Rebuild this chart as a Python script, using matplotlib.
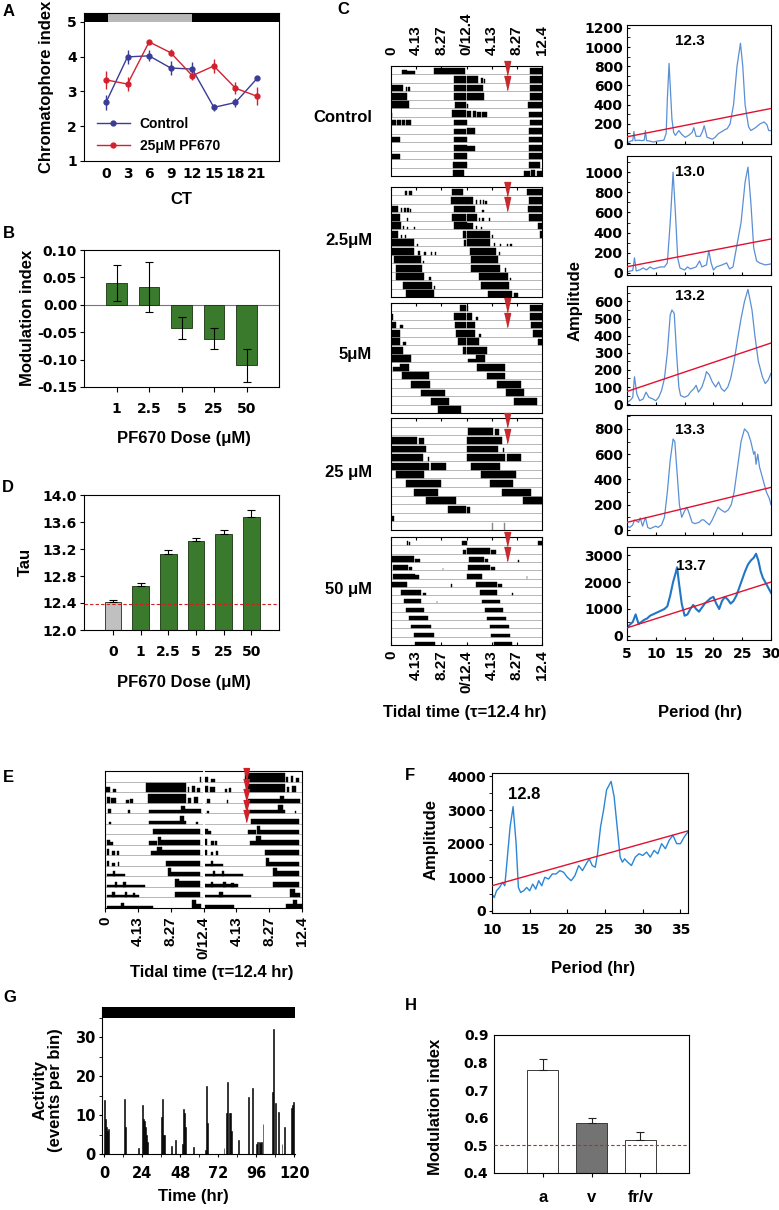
import matplotlib
matplotlib.use("Agg")
import matplotlib.pyplot as plt
import numpy as np
from matplotlib.lines import Line2D
from matplotlib.ticker import MultipleLocator

plt.rcParams['font.family'] = ['Liberation Sans', 'DejaVu Sans']
plt.rcParams['font.weight'] = 'bold'
plt.rcParams['axes.labelweight'] = 'bold'
plt.rcParams['axes.linewidth'] = 0.8

# ---------------- data ----------------
# Panel A
ct_hours = [0, 3, 6, 9, 12, 15, 18, 21]
ctrl_index = [2.68, 3.99, 4.02, 3.67, 3.64, 2.54, 2.68, 3.37]
ctrl_index_err = [0.21, 0.20, 0.16, 0.21, 0.19, 0.10, 0.14, 0.03]
pf_index = [3.33, 3.21, 4.42, 4.11, 3.45, 3.73, 3.09, 2.86]
pf_index_err = [0.25, 0.20, 0.03, 0.10, 0.12, 0.20, 0.18, 0.26]
subjective_day = (0.3, 12.0)

# Panel B
doses_b = ['1', '2.5', '5', '25', '50']
mod_index = [0.040, 0.033, -0.042, -0.062, -0.110]
mod_index_err = [0.033, 0.046, 0.020, 0.019, 0.030]

# Panel D
doses_d = ['0', '1', '2.5', '5', '25', '50']
tau_vals = [12.41, 12.65, 13.12, 13.32, 13.42, 13.67]
tau_err = [0.03, 0.05, 0.06, 0.05, 0.06, 0.11]
tau_ref = 12.38

# Panel C actograms: per tidal cycle bouts (start hr, end hr, relative height[, colour])
tidal_tau = 12.4
tidal_ticks = [0, 4.13, 8.27, 12.4, 16.53, 20.67, 24.8]
tidal_labels = ['0', '4.13', '8.27', '0/12.4', '4.13', '8.27', '12.4']
group_names = ['Control', '2.5μM', '5μM', '25 μM', '50 μM']
acto_control = [
    [(1.8, 2.6, 0.6), (2.7, 4.0, 0.4), (7.0, 12.2, 0.85)],
    [(10.4, 12.4, 0.85)],
    [(0, 1.9, 0.85), (2.4, 2.7, 0.6), (2.8, 3.1, 0.5), (10.4, 12.4, 0.85)],
    [(0, 2.7, 0.85), (10.4, 12.4, 0.85)],
    [(0, 2.9, 0.85), (10.5, 12.4, 0.8)],
    [(0, 0.2, 0.5), (10.1, 12.4, 0.8)],
    [(0, 0.8, 0.7), (1.0, 1.6, 0.7), (1.8, 2.3, 0.6), (2.5, 3.3, 0.6), (10.3, 12.4, 0.6)],
    [(10.4, 12.4, 0.6)],
    [(0, 1.4, 0.7), (10.3, 12.4, 0.7)],
    [(10.3, 12.4, 0.7)],
    [(0, 1.4, 0.6), (10.3, 12.4, 0.7)],
    [(10.2, 12.4, 0.7)],
    [(10.2, 12.0, 0.7)],
    [(9.5, 10.5, 0.6), (10.6, 11.3, 0.7), (11.5, 12.4, 0.6)],
]
acto_2p5 = [
    [(2.3, 2.7, 0.5), (2.9, 3.4, 0.5), (10.0, 11.9, 0.85)],
    [(9.9, 12.4, 0.85)],
    [(0, 1.1, 0.85), (1.6, 1.8, 0.5), (2.2, 2.4, 0.5), (2.7, 2.9, 0.5), (3.1, 3.3, 0.4), (10.3, 12.4, 0.85)],
    [(0, 1.4, 0.85), (2.6, 2.8, 0.3), (10.1, 12.4, 0.85)],
    [(0, 1.7, 0.85), (2.0, 2.2, 0.4), (2.6, 2.8, 0.3), (3.7, 3.9, 0.3), (10.3, 12.4, 0.85)],
    [(0, 1.1, 0.8), (1.6, 1.8, 0.4), (2.3, 2.5, 0.3), (11.8, 12.4, 0.8)],
    [(0, 3.8, 0.85), (4.2, 4.4, 0.3), (12.0, 12.4, 0.8)],
    [(0, 3.8, 0.85), (4.5, 4.7, 0.4), (5.5, 5.7, 0.3), (6.6, 6.8, 0.3), (7.2, 7.4, 0.3)],
    [(0.5, 4.9, 0.85), (5.3, 5.5, 0.3)],
    [(0.8, 5.1, 0.85)],
    [(0.8, 5.5, 0.85), (6.3, 6.5, 0.4)],
    [(2.0, 6.8, 0.85), (7.1, 7.3, 0.3)],
    [(2.4, 7.0, 0.85)],
    [(3.6, 7.4, 0.8), (7.8, 8.4, 0.5)],
]
acto_5 = [
    [(11.4, 12.4, 0.85)],
    [(0, 0.3, 0.7), (10.4, 12.4, 0.85)],
    [(0, 0.9, 0.85), (1.5, 1.9, 0.4), (10.5, 12.4, 0.85)],
    [(0, 1.4, 0.85), (10.6, 12.4, 0.85)],
    [(0, 1.4, 0.85), (2.0, 2.4, 0.4), (11.0, 12.4, 0.85)],
    [(0, 2.0, 0.85), (11.8, 12.4, 0.8)],
    [(0, 3.3, 0.85)],
    [(0.3, 1.5, 0.4), (1.5, 3.0, 0.85)],
    [(1.8, 6.3, 0.85)],
    [(3.3, 6.4, 0.8)],
    [(5.0, 8.9, 0.8)],
    [(6.5, 9.5, 0.85)],
    [(7.8, 11.5, 0.85)],
    [],
]
acto_25 = [
    [],
    [],
    [(0.2, 4.3, 0.85), (4.6, 5.4, 0.75)],
    [(0, 5.8, 0.85)],
    [(0, 5.2, 0.85), (6.0, 6.2, 0.5)],
    [(0, 6.3, 0.85), (6.6, 9.0, 0.85)],
    [(0.8, 5.5, 0.85)],
    [(2.4, 8.2, 0.85)],
    [(3.8, 7.7, 0.85)],
    [(5.8, 10.6, 0.85)],
    [(9.3, 12.4, 0.85)],
    [(0, 0.5, 0.7)],
    [],
    [(4.2, 4.35, 0.9, '#888888'), (6.1, 6.25, 0.9, '#888888')],
]
acto_50 = [
    [(2.6, 2.8, 0.6), (3.0, 3.2, 0.4), (11.6, 12.4, 0.6)],
    [(11.8, 12.4, 0.5)],
    [(0, 3.8, 0.7), (4.0, 4.8, 0.4)],
    [(0.4, 2.8, 0.6), (3.0, 3.5, 0.4), (8.5, 8.6, 0.3)],
    [(0.3, 3.9, 0.6), (4.0, 4.6, 0.4)],
    [(0, 2.6, 0.6), (9.9, 10.0, 0.3)],
    [(1.6, 5.0, 0.6), (5.2, 5.8, 0.3)],
    [(2.2, 5.0, 0.6), (7.5, 7.6, 0.3)],
    [(2.5, 5.5, 0.5)],
    [(3.0, 6.0, 0.5)],
    [(3.3, 6.5, 0.45)],
    [(3.8, 7.0, 0.45)],
    [(4.0, 7.2, 0.4)],
    [(4.5, 7.5, 0.4)],
]
acto_groups = [acto_control, acto_2p5, acto_5, acto_25, acto_50]
drug_onset_hr = 19.1

# Panel C periodograms
per1 = [5, 5.6, 6.0, 6.2, 6.4, 7, 7.6, 8.0, 8.2, 8.4, 9, 9.6, 10.2, 10.8, 11.4, 11.8, 12.0, 12.3, 12.5, 12.8,
        13.1, 13.4, 14.0, 14.5, 15.1, 15.7, 16.3, 16.6, 17.0, 17.7, 18.1, 18.4, 18.9, 19.4, 19.8, 20.3, 20.9,
        21.5, 22.0, 22.4, 22.9, 23.5, 24.1, 24.7, 25.1, 25.5, 26.1, 26.5, 27.3, 28.1, 28.8, 29.3, 29.6, 30]
amp1 = [0, 20, 25, 120, 25, 30, 25, 30, 130, 25, 20, 10, 20, 25, 30, 100, 450, 830, 600, 250,
        110, 80, 130, 90, 60, 80, 110, 160, 70, 70, 120, 180, 60, 50, 40, 60, 100,
        120, 140, 150, 200, 400, 800, 1040, 800, 400, 170, 130, 160, 200, 220, 190, 130, 130]
per2 = [5, 5.6, 6.0, 6.3, 6.6, 7.2, 7.8, 8.4, 9.0, 9.6, 10.2, 10.8, 11.5, 12.0, 12.5, 13.0, 13.4, 13.8, 14.2,
        15.0, 15.5, 16.0, 17.0, 17.6, 18.0, 18.8, 19.2, 19.6, 20.0, 20.5, 21.5, 22.3, 22.8, 23.4, 24.0, 24.8,
        25.5, 26.0, 26.5, 27.0, 27.5, 28.0, 29.0, 30.0]
amp2 = [10, 20, 25, 150, 20, 30, 50, 30, 60, 40, 50, 60, 60, 100, 500, 1000, 600, 150, 50,
        30, 60, 40, 60, 120, 60, 80, 220, 100, 30, 60, 80, 100, 40, 60, 250, 500,
        900, 1050, 700, 250, 120, 100, 80, 90]
per3 = [5, 5.5, 6.0, 6.3, 6.7, 7.2, 7.8, 8.3, 8.8, 9.5, 10.0, 10.5, 11.0, 11.5, 12.0, 12.5, 12.8, 13.2, 13.6,
        14.0, 14.3, 15.0, 15.6, 16.0, 16.6, 17.0, 17.4, 18.0, 18.5, 18.8, 19.3, 19.8, 20.4, 20.9, 21.4, 21.9,
        22.5, 23.0, 23.6, 24.2, 24.8, 25.4, 26.0, 26.7, 27.2, 27.8, 28.5, 29.0, 29.5, 30.0]
amp3 = [10, 20, 40, 160, 60, 20, 30, 70, 40, 30, 20, 40, 80, 150, 300, 520, 550, 530, 300,
        100, 50, 40, 50, 70, 90, 110, 70, 100, 150, 190, 170, 130, 100, 130, 90, 75,
        100, 150, 250, 380, 500, 600, 670, 550, 400, 250, 160, 120, 140, 180]
per4 = [5, 5.5, 6.0, 6.3, 7.0, 7.3, 7.7, 8.2, 8.6, 9.0, 9.5, 10.0, 10.4, 11.0, 11.5, 12.0, 12.5, 13.0, 13.3,
        13.7, 14.1, 14.5, 15.0, 15.4, 15.8, 16.3, 16.8, 17.5, 18.0, 18.3, 18.8, 19.3, 19.8, 20.3, 20.8, 21.3,
        22.0, 22.6, 23.1, 23.6, 24.2, 24.8, 25.4, 26.0, 26.5, 27.0, 27.2, 27.4, 27.7, 28.0, 28.6, 29.2, 29.7, 30.0]
amp4 = [30, 20, 40, 80, 60, 95, 30, 100, 20, 10, 20, 30, 20, 40, 100, 300, 550, 720, 700,
        450, 200, 100, 150, 180, 130, 60, 50, 60, 80, 80, 60, 40, 80, 130, 180, 160,
        140, 160, 200, 300, 500, 700, 800, 770, 700, 600, 620, 520, 600, 500, 400, 300, 250, 200]
per5 = [5, 5.5, 6.0, 6.5, 7.0, 7.5, 8.0, 8.5, 9.0, 9.5, 10.0, 10.5, 11.0, 11.5, 12.0, 12.5, 13.0, 13.4, 13.7,
        14.0, 14.5, 15.0, 15.5, 16.0, 16.5, 17.0, 17.5, 18.0, 18.5, 19.0, 19.5, 20.0, 20.5, 21.0, 21.5, 22.0,
        22.5, 23.0, 23.5, 24.0, 24.5, 25.0, 25.5, 26.0, 26.5, 27.0, 27.4, 27.8, 28.2, 28.6, 29.0, 29.5, 30.0]
amp5 = [300, 420, 520, 800, 450, 520, 600, 650, 750, 800, 850, 900, 950, 1000, 1100, 1500, 2000, 2300, 2550,
        2000, 1200, 750, 800, 1000, 1150, 1000, 900, 1050, 1200, 1300, 1400, 1450, 1200, 1000, 1300, 1450,
        1350, 1200, 1300, 1500, 1800, 2100, 2400, 2650, 2800, 2900, 3050, 2800, 2400, 2150, 2000, 1800, 1600]
pg_periods = [per1, per2, per3, per4, per5]
pg_amps = [amp1, amp2, amp3, amp4, amp5]
pg_thresh = [(65, 360), (62, 337), (74, 357), (60, 337), (300, 2000)]
pg_tau_labels = ['12.3', '13.0', '13.2', '13.3', '13.7']
pg_label_amp = [1060, 1000, 630, 795, 2580]
pg_yticks = [[0, 200, 400, 600, 800, 1000, 1200], [0, 200, 400, 600, 800, 1000],
             [0, 100, 200, 300, 400, 500, 600], [0, 200, 400, 600, 800], [0, 1000, 2000, 3000]]
pg_ylims = [(-10, 1230), (-20, 1160), (-5, 690), (-40, 910), (-150, 3300)]

# Panel E actogram (per tidal cycle)
acto_E = [
    [(11.9, 12.1, 0.5)],
    [(0.1, 0.6, 0.5), (1.0, 1.4, 0.3), (5.2, 10.2, 0.9), (10.4, 10.6, 0.5), (11.0, 11.3, 0.6), (11.6, 12.0, 0.4)],
    [(0.2, 0.6, 0.6), (0.8, 1.4, 0.5), (2.7, 3.0, 0.3), (3.2, 3.5, 0.4), (5.4, 10.2, 0.85), (10.5, 10.8, 0.5), (11.2, 11.7, 0.6)],
    [(0.4, 0.8, 0.4), (2.9, 3.1, 0.3), (5.6, 9.6, 0.35), (9.6, 10.1, 0.7), (10.1, 12.1, 0.4)],
    [(0.5, 0.7, 0.2), (5.6, 9.4, 0.3), (9.4, 10.0, 0.8), (10.0, 10.2, 0.3), (11.5, 11.7, 0.2)],
    [(6.0, 12.0, 0.5)],
    [(0.2, 0.6, 0.5), (0.6, 1.0, 0.3), (5.6, 6.6, 0.4), (6.7, 7.1, 0.8), (7.1, 12.0, 0.45)],
    [(0.2, 0.5, 0.6), (0.9, 1.3, 0.4), (1.5, 1.7, 0.4), (5.8, 6.6, 0.4), (6.6, 7.2, 0.85), (7.2, 12.0, 0.5)],
    [(0.2, 0.5, 0.5), (0.9, 1.2, 0.3), (1.6, 1.8, 0.4), (7.7, 12.0, 0.5)],
    [(0.2, 2.5, 0.2), (1.0, 1.2, 0.5), (7.9, 8.3, 0.8), (8.3, 12.0, 0.4)],
    [(0.2, 5.0, 0.2), (1.2, 1.5, 0.5), (2.3, 2.6, 0.5), (8.8, 9.3, 0.8), (9.3, 12.0, 0.55)],
    [(0.2, 4.3, 0.25), (0.9, 1.2, 0.5), (2.5, 2.8, 0.5), (3.5, 3.8, 0.4), (8.8, 12.0, 0.5)],
    [(0.2, 6.0, 0.2), (2.0, 2.4, 0.5), (10.9, 11.5, 0.8), (11.5, 12.1, 0.4)],
    [(0, 3.8, 0.25), (10.4, 12.4, 0.4), (11.3, 11.8, 0.8)],
]
drug_onset_E = 17.8

# Panel F periodogram
perF = [10, 10.3, 10.6, 11, 11.4, 11.7, 12, 12.4, 12.8, 13.2, 13.5, 13.8, 14.2, 14.6, 15, 15.4, 15.8, 16.2,
        16.6, 17, 17.5, 18, 18.5, 19, 19.5, 20, 20.5, 21, 21.5, 22, 22.5, 22.9, 23.3, 23.7, 24, 24.4, 24.8,
        25.2, 25.8, 26.2, 26.6, 27, 27.3, 27.6, 28, 28.5, 29, 29.5, 30, 30.5, 31, 31.5, 32, 32.5, 33, 33.5,
        34, 34.5, 35, 35.5, 36]
ampF = [500, 400, 600, 700, 850, 750, 1500, 2500, 3100, 2000, 700, 550, 600, 700, 600, 800, 650, 900,
        750, 1000, 950, 1100, 1100, 1200, 1150, 1000, 900, 1050, 1350, 1200, 1400, 1550, 1350, 1300, 1700, 2500, 3000,
        3600, 3850, 3400, 2500, 1600, 1450, 1550, 1450, 1350, 1600, 1700, 1650, 1750, 1600, 1800, 1700, 2000, 1850, 2100,
        2250, 2000, 2000, 2200, 2350]
threshF = (750, 2380)

# Panel G activity trace
g_time = [0.0, 0.6, 1.2, 1.8, 2.4, 12.5, 13.2, 21.6, 23.7, 24.4, 25.1, 25.8, 26.5, 27.2, 36.0, 36.7, 37.4, 38.1,
          42.5, 44.6, 49.0, 49.7, 50.4, 51.1, 56.0, 63.5, 64.2, 64.9, 75.4, 77.0, 77.8, 78.6, 79.4, 80.2, 84.4,
          90.7, 93.4, 96.0, 96.8, 97.6, 98.4, 99.2, 100.0, 106.0, 106.8, 107.6, 110.0, 112.0, 113.7, 118.0, 118.8, 119.5]
g_act = [13.8, 9, 7, 6, 6.5, 14.2, 7, 1.5, 12.5, 9, 8.5, 7, 5, 3, 9.5, 14.2, 5, 5,
         2, 3.5, 2.5, 11.5, 10.5, 7, 1.8, 1, 17.5, 8, 1.5, 10.5, 18.5, 10.5, 10.5, 6, 3.5,
         14.5, 16.8, 2.5, 3.2, 3, 2.8, 3, 7.7, 16, 32, 13, 10.8, 2.5, 7, 11.8, 12.5, 13.3]

# Panel H
h_groups = ['a', 'v', 'fr/v']
h_vals = [0.773, 0.581, 0.520]
h_err = [0.040, 0.019, 0.029]
h_colors = ['white', '#737373', 'white']

# ---------------- drawing ----------------
BLUE_A = '#3b3b98'
RED_A = '#d3202f'
GREEN = '#3a7a2c'
TRI = '#c62a2e'
PBLUE = '#5a8fd4'
PRED = '#e01030'
NUMFONT = 'DejaVu Sans'

W, H = 779, 1210
fig = plt.figure(figsize=(W / 100, H / 100), dpi=100)


def axpx(x0, y0, x1, y1):
    return fig.add_axes([x0 / W, 1 - y1 / H, (x1 - x0) / W, (y1 - y0) / H])


def ftext(x, y, s, **kw):
    kw.setdefault('ha', 'center')
    kw.setdefault('va', 'center')
    kw.setdefault('fontsize', 12)
    kw.setdefault('fontweight', 'bold')
    fig.text(x / W, 1 - y / H, s, **kw)


def numticks(ax, size=10):
    ax.tick_params(labelsize=size, labelfontfamily=NUMFONT)


# ---- Panel A ----
axA = axpx(84, 13, 279, 161)
axA.errorbar(ct_hours, ctrl_index, yerr=ctrl_index_err, color=BLUE_A, marker='o', ms=3.5, lw=1.0,
             elinewidth=1.0, capsize=0, zorder=3)
axA.errorbar(ct_hours, pf_index, yerr=pf_index_err, color=RED_A, marker='o', ms=3.5, lw=1.0,
             elinewidth=1.0, capsize=0, zorder=3)
axA.set_xlim(-3.05, 24.05)
axA.set_ylim(1, 5.25)
axA.axhspan(5.0, 5.25, color='black', lw=0)
axA.fill_between(list(subjective_day), 5.0, 5.25, color='#b8b8b8', lw=0)
axA.set_xticks(ct_hours)
axA.set_yticks([1, 2, 3, 4, 5])
numticks(axA)
axA.tick_params(axis='x', length=0, pad=4)
axA.tick_params(axis='y', length=3, pad=2)
hA = [Line2D([], [], color=BLUE_A, marker='o', ms=3.5, lw=1.0),
      Line2D([], [], color=RED_A, marker='o', ms=3.5, lw=1.0)]
axA.legend(hA, ['Control', '25μM PF670'], loc='lower left', bbox_to_anchor=(0.0, -0.03), frameon=False,
           fontsize=10, handlelength=2.4, handletextpad=0.7, labelspacing=0.55)
ftext(47, 87, 'Chromatophore index', rotation=90)
ftext(181, 199, 'CT')

# ---- Panel B ----
axB = axpx(84, 250, 279, 387)
xB = np.arange(len(doses_b))
axB.bar(xB, mod_index, width=0.62, color=GREEN, edgecolor='#17320e', lw=0.6, zorder=2)
axB.errorbar(xB, mod_index, yerr=mod_index_err, fmt='none', ecolor='black', elinewidth=0.8, capsize=3,
             capthick=0.8, zorder=3)
axB.axhline(0, color='#777777', lw=0.8, zorder=1)
axB.set_xlim(-1, len(doses_b))
axB.set_ylim(-0.15, 0.10)
axB.set_yticks([-0.15, -0.10, -0.05, 0.0, 0.05, 0.10])
axB.set_yticklabels(['%.2f' % v for v in [-0.15, -0.10, -0.05, 0.0, 0.05, 0.10]])
axB.set_xticks(xB)
axB.set_xticklabels(doses_b)
numticks(axB)
axB.tick_params(axis='x', length=3.5, pad=7)
axB.tick_params(axis='y', length=3, pad=2)
ftext(28, 318, 'Modulation index', rotation=90)
ftext(184, 439, 'PF670 Dose (μM)')

# ---- Panel D ----
axD = axpx(84, 495, 279, 630)
xD = np.arange(len(doses_d))
colsD = ['#c0c0c0'] + [GREEN] * (len(doses_d) - 1)
axD.bar(xD, tau_vals, width=0.6, color=colsD, edgecolor='#17320e', lw=0.6, zorder=2)
axD.errorbar(xD, tau_vals, yerr=[np.zeros(len(tau_err)), tau_err], fmt='none', ecolor='black',
             elinewidth=0.8, capsize=3, capthick=0.8, zorder=3)
axD.axhline(tau_ref, color='#d02020', lw=0.8, ls=(0, (3, 2)), zorder=4)
axD.set_xlim(-1.05, len(doses_d))
axD.set_ylim(12.0, 14.0)
axD.set_yticks([12.0, 12.4, 12.8, 13.2, 13.6, 14.0])
axD.set_yticklabels(['%.1f' % v for v in [12.0, 12.4, 12.8, 13.2, 13.6, 14.0]])
axD.set_xticks(xD)
axD.set_xticklabels(doses_d)
numticks(axD)
axD.tick_params(axis='x', length=3.5, pad=7)
axD.tick_params(axis='y', length=3, pad=2)
ftext(25, 562, 'Tau', rotation=90)
ftext(184, 682, 'PF670 Dose (μM)')


# ---- actogram helper ----
def draw_acto(ax, cycles, nrows, tau):
    for i in range(nrows):
        base = nrows - 1 - i
        ax.axhline(base, color='#9a9a9a', lw=0.5, zorder=1)
        for half, c in ((0, i), (1, i + 1)):
            if c >= len(cycles):
                continue
            for b in cycles[c]:
                s, e, hgt = b[0], b[1], b[2]
                col = b[3] if len(b) > 3 else 'black'
                ax.bar(s + half * tau, hgt * 0.95, width=e - s, bottom=base, align='edge',
                       color=col, edgecolor=col, lw=0.3, zorder=2)
    ax.set_xlim(0, 2 * tau)
    ax.set_ylim(0, nrows)
    ax.set_yticks([])
    ax.set_xticks(tidal_ticks)


# ---- Panel C actograms ----
acto_boxes = [(66, 176), (187, 297), (303, 413), (418, 530), (537, 645)]
label_y = [118, 240, 355, 472, 590]
for gi, (cyc, (y0, y1)) in enumerate(zip(acto_groups, acto_boxes)):
    ax = axpx(391, y0, 542, y1)
    nrows = 13
    draw_acto(ax, cyc, nrows, tidal_tau)
    tri = [(-0.45, 1), (0.45, 1), (0, -1)]
    ax.plot([drug_onset_hr, drug_onset_hr], [nrows - 0.2, nrows - 2.05], ls='none', marker=tri, ms=10,
            color=TRI, clip_on=False, zorder=5)
    ax.tick_params(axis='x', which='both', top=True, bottom=(gi == 4), direction='in', length=2,
                   labelbottom=False, labeltop=False)
    if gi == 0:
        ax.tick_params(axis='x', labeltop=True, labelrotation=90, labelsize=11, pad=8)
        ax.set_xticklabels(tidal_labels)
    if gi == 4:
        ax.tick_params(axis='x', labelbottom=True, labelrotation=90, labelsize=11, pad=4)
        ax.set_xticklabels(tidal_labels)
    ftext(372, label_y[gi], group_names[gi], ha='right')
ftext(465, 713, 'Tidal time (τ=12.4 hr)')

# ---- Panel C periodograms ----
pg_boxes = [(25, 144), (156, 275), (286, 405), (415, 535), (547, 640)]
for pi, (y0, y1) in enumerate(pg_boxes):
    ax = axpx(627, y0, 771, y1)
    lw = 1.5 if pi == 4 else 0.9
    col = '#2277c4' if pi == 4 else PBLUE
    ax.plot(pg_periods[pi], pg_amps[pi], color=col, lw=lw, zorder=2)
    ax.plot([5, 30], list(pg_thresh[pi]), color=PRED, lw=1.0, zorder=3)
    ax.set_xlim(5, 30)
    ax.set_ylim(*pg_ylims[pi])
    ax.set_yticks(pg_yticks[pi])
    ax.set_xticks([5, 10, 15, 20, 25, 30])
    ax.yaxis.set_minor_locator(MultipleLocator(pg_yticks[pi][1] / 2))
    numticks(ax)
    ax.tick_params(axis='both', which='both', direction='in', length=2.5, pad=3)
    ax.tick_params(axis='x', labelbottom=(pi == 4), pad=5)
    ax.text(16.0, pg_label_amp[pi], pg_tau_labels[pi], ha='center', va='center', fontsize=11,
            fontweight='bold')
ftext(575, 300, 'Amplitude', rotation=90)
ftext(700, 713, 'Period (hr)')

# ---- Panel E ----
axE = axpx(105, 771, 302, 908)
draw_acto(axE, acto_E, 13, tidal_tau)
axE.axvline(tidal_tau, color='white', lw=1.3, zorder=3)
tri = [(-0.5, 1), (0.5, 1), (0, -1)]
axE.plot([drug_onset_E] * 5, [13 - 0.3 - k for k in range(5)], ls='none', marker=tri, ms=8.5,
         color='#d0202a', clip_on=False, zorder=5)
axE.set_xticklabels(tidal_labels)
axE.tick_params(axis='x', direction='out', length=3, pad=3, labelrotation=90, labelsize=11)
ftext(212, 973, 'Tidal time (τ=12.4 hr)')

# ---- Panel F ----
axF = axpx(492, 773, 688, 913)
axF.plot(perF, ampF, color='#2b86d6', lw=1.0, zorder=2)
axF.plot([10, 36], list(threshF), color=PRED, lw=1.0, zorder=3)
axF.set_xlim(10, 36)
axF.set_ylim(-60, 4100)
axF.set_xticks([10, 15, 20, 25, 30, 35])
axF.set_yticks([0, 1000, 2000, 3000, 4000])
axF.yaxis.set_minor_locator(MultipleLocator(500))
numticks(axF)
axF.tick_params(axis='x', direction='in', length=3, pad=7)
axF.tick_params(axis='y', which='both', direction='out', length=2.5, pad=2)
axF.text(14.3, 3450, '12.8', ha='center', va='center', fontsize=12, fontweight='bold')
ftext(431, 840, 'Amplitude', rotation=90)
ftext(593, 968, 'Period (hr)')

# ---- Panel G ----
axG = axpx(102, 1007, 295, 1154)
axG.bar(g_time, g_act, width=0.6, color='black', edgecolor='black', lw=0.4, align='edge')
axG.axhspan(35, 37.7, color='black', lw=0)
axG.set_xlim(-1.3, 120.5)
axG.set_ylim(0, 37.7)
axG.spines['top'].set_visible(False)
axG.spines['right'].set_visible(False)
axG.set_xticks([0, 24, 48, 72, 96, 120])
axG.set_yticks([0, 10, 20, 30])
axG.xaxis.set_minor_locator(MultipleLocator(12))
axG.yaxis.set_minor_locator(MultipleLocator(5))
numticks(axG, 10.5)
axG.tick_params(axis='both', which='both', direction='out', length=2.5, pad=2)
axG.tick_params(axis='x', pad=6)
ftext(48, 1090, 'Activity\n(events per bin)', rotation=90, linespacing=1.0)
ftext(193, 1197, 'Time (hr)')

# ---- Panel H ----
axH = axpx(494, 1035, 689, 1173)
xH = np.arange(len(h_groups))
axH.bar(xH, h_vals, width=0.63, color=h_colors, edgecolor='#3a3a3a', lw=0.7, zorder=2)
axH.errorbar(xH, h_vals, yerr=[np.zeros(len(h_err)), h_err], fmt='none', ecolor='#222222', elinewidth=0.8,
             capsize=3, capthick=0.8, zorder=3)
axH.axhline(0.5, color='#d02020', lw=0.8, ls=(0, (3, 2)), zorder=4)
axH.set_xlim(-1, len(h_groups))
axH.set_ylim(0.4, 0.9)
axH.set_yticks([0.4, 0.5, 0.6, 0.7, 0.8, 0.9])
axH.set_xticks(xH)
axH.set_xticklabels(h_groups)
numticks(axH)
axH.tick_params(axis='x', length=3, pad=9, labelsize=12, labelfontfamily='Liberation Sans')
axH.tick_params(axis='y', length=0, pad=4)
ftext(436, 1107, 'Modulation index', rotation=90)

# ---- panel letters ----
for lab, (x, y) in zip('ABCDEFGH', [(3, 11), (3, 234), (337, 10), (2, 487), (3, 778), (405, 776), (3, 998), (405, 1006)]):
    ftext(x, y, lab, ha='left', fontsize=12)

fig.savefig('out.png', dpi=100)
